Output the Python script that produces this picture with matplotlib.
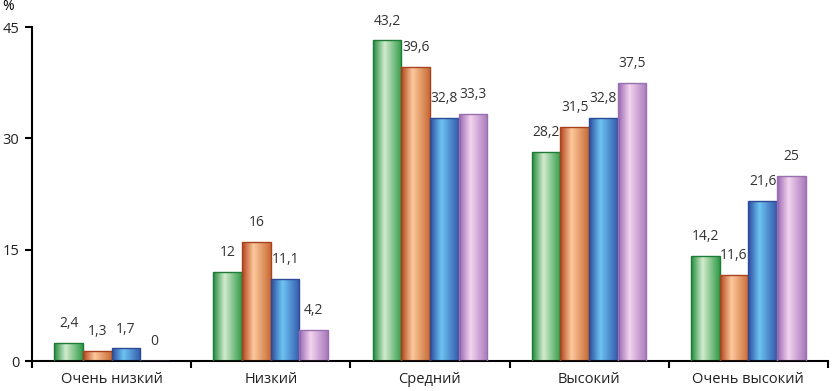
import numpy as np
import matplotlib.pyplot as plt
from matplotlib.colors import LinearSegmentedColormap

plt.rcParams['font.family'] = ['Open Sans', 'DejaVu Sans']

categories = ['Очень низкий', 'Низкий', 'Средний', 'Высокий', 'Очень высокий']
series_1 = [2.4, 12, 43.2, 28.2, 14.2]
series_2 = [1.3, 16, 39.6, 31.5, 11.6]
series_3 = [1.7, 11.1, 32.8, 32.8, 21.6]
series_4 = [0, 4.2, 33.3, 37.5, 25]
all_series = [series_1, series_2, series_3, series_4]

# gradient stops: left edge, highlight, right edge
grad_colors = [
    ['#1c8a3a', '#d3ecce', '#2f9a48'],
    ['#b2411c', '#fcc99c', '#c86a35'],
    ['#2b4a9e', '#6cc4f2', '#3558aa'],
    ['#9763b0', '#f3d4ee', '#a878bb'],
]
edge_colors = ['#1e7a34', '#a8421e', '#2c4a96', '#9870b0']

fig = plt.figure(figsize=(8.32, 3.91), dpi=100)
ax = fig.add_axes([0.0385, 0.0767, 0.9565, 0.854])

x = np.arange(len(categories))
w = 0.18
grad = np.linspace(0, 1, 256).reshape(1, -1)

for i, vals in enumerate(all_series):
    pos = x + (i - 1.5) * w
    cmap = LinearSegmentedColormap.from_list(
        f'g{i}', [(0, grad_colors[i][0]), (0.4, grad_colors[i][1]), (1, grad_colors[i][2])])
    bars = ax.bar(pos, vals, width=w, color='none', edgecolor=edge_colors[i],
                  linewidth=1.0, zorder=3)
    for b, v in zip(bars, vals):
        if v > 0:
            im = ax.imshow(grad, cmap=cmap, aspect='auto', zorder=2,
                           extent=[b.get_x(), b.get_x() + b.get_width(), 0, v])
            im.set_clip_path(b)
        lbl = f'{v:g}'.replace('.', ',')
        ax.text(b.get_x() + b.get_width() / 2, v + 1.6, lbl, ha='center', va='bottom',
                fontsize=10, color='#333333')

ax.set_xlim(-0.5, len(categories) - 0.5)
ax.set_ylim(0, 45)
ax.set_yticks([0, 15, 30, 45])
ax.set_xticks(x)
ax.set_xticklabels(categories, fontsize=10.5, color='#222222')
ax.tick_params(axis='x', length=0, pad=8)
ax.set_xticks(np.arange(len(categories) + 1) - 0.5, minor=True)
ax.tick_params(axis='x', which='minor', length=5, width=1.5, direction='out')
ax.tick_params(axis='y', length=5, width=1.5, labelsize=10.5, pad=4, labelcolor='#222222')
for s in ['top', 'right']:
    ax.spines[s].set_visible(False)
for s in ['left', 'bottom']:
    ax.spines[s].set_linewidth(1.5)
ax.text(-0.03, 1.04, '%', transform=ax.transAxes, fontsize=10, ha='center', va='bottom')

fig.savefig('out.png', dpi=100)
